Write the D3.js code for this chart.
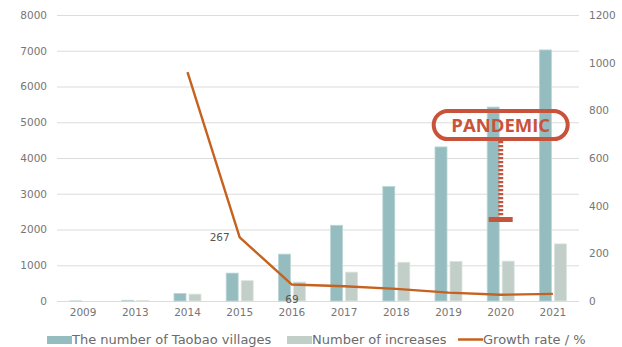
<!DOCTYPE html>
<html>
<head>
<meta charset="utf-8">
<script src="https://cdn.jsdelivr.net/npm/d3@7"></script>
<style>
  html, body { margin: 0; padding: 0; background: #fff; }
  svg { display: block; }
  text { font-family: "DejaVu Sans", sans-serif; }
</style>
</head>
<body>
<svg id="chart" width="622" height="347"></svg>
<script>
// Taobao villages by year
const years = ["2009", "2013", "2014", "2015", "2016", "2017", "2018", "2019", "2020", "2021"];
const villages = [3, 20, 212, 780, 1311, 2118, 3202, 4310, 5425, 7023];
const increases = [0, 17, 192, 568, 531, 807, 1084, 1108, 1115, 1598];
// growth rate (%) from 2014 onward
const growthYears = ["2014", "2015", "2016", "2017", "2018", "2019", "2020", "2021"];
const growthRate = [960, 267, 69, 62, 51, 35, 26, 30];
const labelledRates = [{ year: "2015", value: 267 }, { year: "2016", value: 69 }];
const leftTicks = [0, 1000, 2000, 3000, 4000, 5000, 6000, 7000, 8000];
const rightTicks = [0, 200, 400, 600, 800, 1000, 1200];
const seriesNames = ["The number of Taobao villages", "Number of increases", "Growth rate / %"];

const C_VILL = "#95bdbf", C_INC = "#c1cfc8", C_LINE = "#c6621f", C_NOTE = "#c9533a";

const svg = d3.select("#chart");
const plotL = 57, plotR = 579, plotT = 15, plotB = 301;

const x = d3.scaleBand().domain(years).range([plotL, plotR]);
const xSub = d3.scaleBand().domain(["v", "i"]).range([0, x.bandwidth()])
  .paddingInner(0.2).paddingOuter(0.84);
const yL = d3.scaleLinear().domain([0, 8000]).range([plotB, plotT]);
const yR = d3.scaleLinear().domain([0, 1200]).range([plotB, plotT]);

// gridlines + left axis labels
const gAxisL = svg.append("g").attr("transform", `translate(${plotL},0)`)
  .call(d3.axisLeft(yL).tickValues(leftTicks).tickSize(-(plotR - plotL)).tickPadding(10).tickFormat(d3.format("d")));
gAxisL.select(".domain").remove();
gAxisL.selectAll(".tick line").attr("stroke", "#dcdcdc").attr("stroke-width", 1.2);
gAxisL.selectAll(".tick text").attr("fill", "#767676").style("font-size", "10.5px")
  .style("font-family", "DejaVu Sans, sans-serif");

// right axis labels
const gAxisR = svg.append("g").attr("transform", `translate(${plotR},0)`)
  .call(d3.axisRight(yR).tickValues(rightTicks).tickSize(0).tickPadding(10).tickFormat(d3.format("d")));
gAxisR.select(".domain").remove();
gAxisR.selectAll(".tick text").attr("fill", "#767676").style("font-size", "10.5px")
  .style("font-family", "DejaVu Sans, sans-serif");

// bottom category labels
const gAxisB = svg.append("g").attr("transform", `translate(0,${plotB})`)
  .call(d3.axisBottom(x).tickSize(0).tickPadding(8));
gAxisB.select(".domain").remove();
gAxisB.selectAll(".tick text").attr("fill", "#767676").style("font-size", "10.5px")
  .style("font-family", "DejaVu Sans, sans-serif");

// bars
const barData = years.map((y, i) => ({ year: y, v: villages[i], inc: increases[i] }));
const groups = svg.append("g").selectAll("g").data(barData).join("g")
  .attr("transform", d => `translate(${x(d.year)},0)`);
groups.append("rect")
  .attr("x", xSub("v")).attr("width", xSub.bandwidth())
  .attr("y", d => yL(d.v)).attr("height", d => yL(0) - yL(d.v))
  .attr("fill", C_VILL).attr("stroke", "#bcd5d6").attr("stroke-width", 0.8);
groups.append("rect")
  .attr("x", xSub("i")).attr("width", xSub.bandwidth())
  .attr("y", d => yL(d.inc)).attr("height", d => yL(0) - yL(d.inc))
  .attr("fill", C_INC).attr("stroke", "#dbe4df").attr("stroke-width", 0.8);

// growth rate line on right axis
const lineData = growthYears.map((y, i) => ({ year: y, r: growthRate[i] }));
const line = d3.line().x(d => x(d.year) + x.bandwidth() / 2).y(d => yR(d.r));
svg.append("path").datum(lineData).attr("d", line)
  .attr("fill", "none").attr("stroke", C_LINE).attr("stroke-width", 2.4).attr("stroke-linejoin", "round");

// value labels on the line
svg.append("text")
  .attr("x", x("2015") + x.bandwidth() / 2 - 10).attr("y", yR(267) + 4)
  .attr("text-anchor", "end").attr("fill", "#555").style("font-size", "10.5px")
  .text(labelledRates[0].value);
svg.append("text")
  .attr("x", x("2016") + x.bandwidth() / 2).attr("y", yR(0) + 2)
  .attr("text-anchor", "middle").attr("fill", "#555").style("font-size", "10.5px")
  .text(labelledRates[1].value);

// pandemic annotation above 2020
const noteX = x("2020") + x.bandwidth() / 2;
const pillY = yL(4920), pillW = 134, pillH = 28;
const baseY = yL(2280);
svg.append("line")
  .attr("x1", noteX).attr("x2", noteX)
  .attr("y1", pillY + pillH / 2 + 2).attr("y2", baseY - 2)
  .attr("stroke", C_NOTE).attr("stroke-width", 5).attr("stroke-dasharray", "2.2,1.8");
svg.append("rect")
  .attr("x", noteX - 12).attr("width", 24)
  .attr("y", baseY - 2.5).attr("height", 5)
  .attr("fill", C_NOTE);
svg.append("rect")
  .attr("x", noteX - pillW / 2).attr("y", pillY - pillH / 2)
  .attr("width", pillW).attr("height", pillH)
  .attr("rx", pillH / 2).attr("ry", pillH / 2)
  .attr("fill", "none").attr("stroke", C_NOTE).attr("stroke-width", 4);
svg.append("text")
  .attr("x", noteX).attr("y", pillY + 7)
  .attr("text-anchor", "middle").attr("fill", C_NOTE)
  .style("font-family", "'Open Sans', sans-serif").style("font-weight", "700").style("font-size", "18.5px")
  .text("PANDEMIC");

// legend
const lg = svg.append("g").style("font-size", "13px").attr("fill", "#6b6b6b");
lg.append("rect").attr("x", 47).attr("y", 336).attr("width", 25).attr("height", 8).attr("fill", C_VILL);
lg.append("text").attr("x", 72).attr("y", 344).text(seriesNames[0]);
lg.append("rect").attr("x", 287).attr("y", 336).attr("width", 25).attr("height", 8).attr("fill", C_INC);
lg.append("text").attr("x", 312).attr("y", 344).text(seriesNames[1]);
lg.append("line").attr("x1", 458).attr("x2", 483).attr("y1", 339.5).attr("y2", 339.5)
  .attr("stroke", C_LINE).attr("stroke-width", 2.5);
lg.append("text").attr("x", 483).attr("y", 344).text(seriesNames[2]);
</script>
</body>
</html>
